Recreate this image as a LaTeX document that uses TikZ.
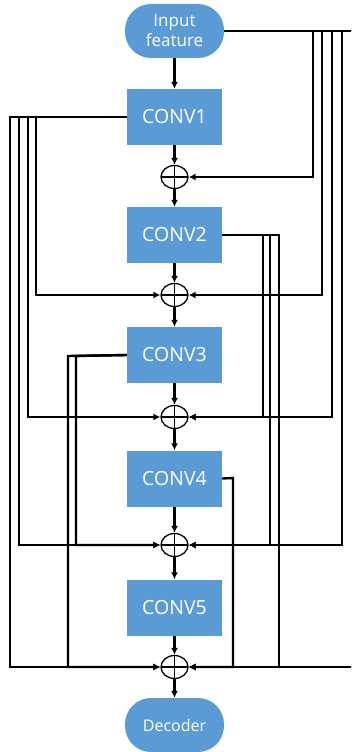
\documentclass[tikz,border=0pt]{standalone}
\usepackage{fontspec}
\setmainfont{Open Sans}
\usetikzlibrary{arrows.meta,shapes.geometric}
\definecolor{boxblue}{HTML}{5B9BD5}
\tikzset{
  conv/.style={draw=none, fill=boxblue, minimum width=95pt, minimum height=56pt, text=white, font=\fontsize{19.5}{22}\selectfont, inner sep=0pt},
  pill/.style={draw=none, fill=boxblue, minimum width=99pt, minimum height=54pt, rounded corners=26pt, text=white, align=center, inner sep=0pt},
  sumnode/.style={draw, line width=1.3pt, ellipse, minimum width=27pt, minimum height=23pt, inner sep=0pt,
    path picture={\draw[line width=1.1pt] (path picture bounding box.north) -- (path picture bounding box.south)
      (path picture bounding box.west) -- (path picture bounding box.east);}},
  arr/.style={line width=2.4pt, -{Latex[length=7pt,width=7pt]}},
}
\begin{document}
\begin{tikzpicture}[x=1pt,y=-1pt]
\useasboundingbox (0,0) rectangle (351,752);
\clip (0,0) rectangle (351,752);
\node[pill, font=\fontsize{17}{20}\selectfont] (in) at (174.5,31) {Input\\feature};
\node[conv] (c1) at (174.5,117) {CONV1};
\node[conv] (c2) at (174.5,235) {CONV2};
\node[conv] (c3) at (174.5,355) {CONV3};
\node[conv] (c4) at (174.5,478.5) {CONV4};
\node[conv] (c5) at (174.5,607.5) {CONV5};
\node[sumnode] (s1) at (174.5,177) {};
\node[sumnode] (s2) at (174.5,295) {};
\node[sumnode] (s3) at (174.5,417) {};
\node[sumnode] (s4) at (174.5,545) {};
\node[sumnode] (s5) at (174.5,667) {};
\node[pill, font=\fontsize{16}{18}\selectfont] (dec) at (174.5,725) {Decoder};
% main chain
\draw[arr] (in) -- (c1);
\draw[arr] (c1) -- (s1);
\draw[arr] (s1) -- (c2);
\draw[arr] (c2) -- (s2);
\draw[arr] (s2) -- (c3);
\draw[arr] (c3) -- (s3);
\draw[arr] (s3) -- (c4);
\draw[arr] (c4) -- (s4);
\draw[arr] (s4) -- (c5);
\draw[arr] (c5) -- (s5);
\draw[arr] (s5) -- (dec);
% input skips
\draw[arr] (in.east) -- (313,31) |- (s1.east);
\draw[arr] (in.east) -- (322,31) |- (s2.east);
\draw[arr] (in.east) -- (332,31) |- (s3.east);
\draw[arr] (in.east) -- (342,31) |- (s4.east);
\draw[arr] (in.east) -- (353,31) |- (s5.east);
% conv1 skips
\draw[arr] (c1.west) -- (36,117) |- (s2.west);
\draw[arr] (c1.west) -- (28,117) |- (s3.west);
\draw[arr] (c1.west) -- (19,117) |- (s4.west);
\draw[arr] (c1.west) -- (10,117) |- (s5.west);
% conv2 skips
\draw[arr] (c2.east) -- (263,235) |- (s3.east);
\draw[arr] (c2.east) -- (270,235) |- (s4.east);
\draw[arr] (c2.east) -- (279,235) |- (s5.east);
% conv3 skips
\draw[arr] (c3.west) -- (76,356) |- (s4.west);
\draw[arr] (c3.west) -- (68,356) |- (s5.west);
% conv4 skip
\draw[arr] (c4.east) -- (233,478) |- (s5.east);
\end{tikzpicture}
\end{document}
